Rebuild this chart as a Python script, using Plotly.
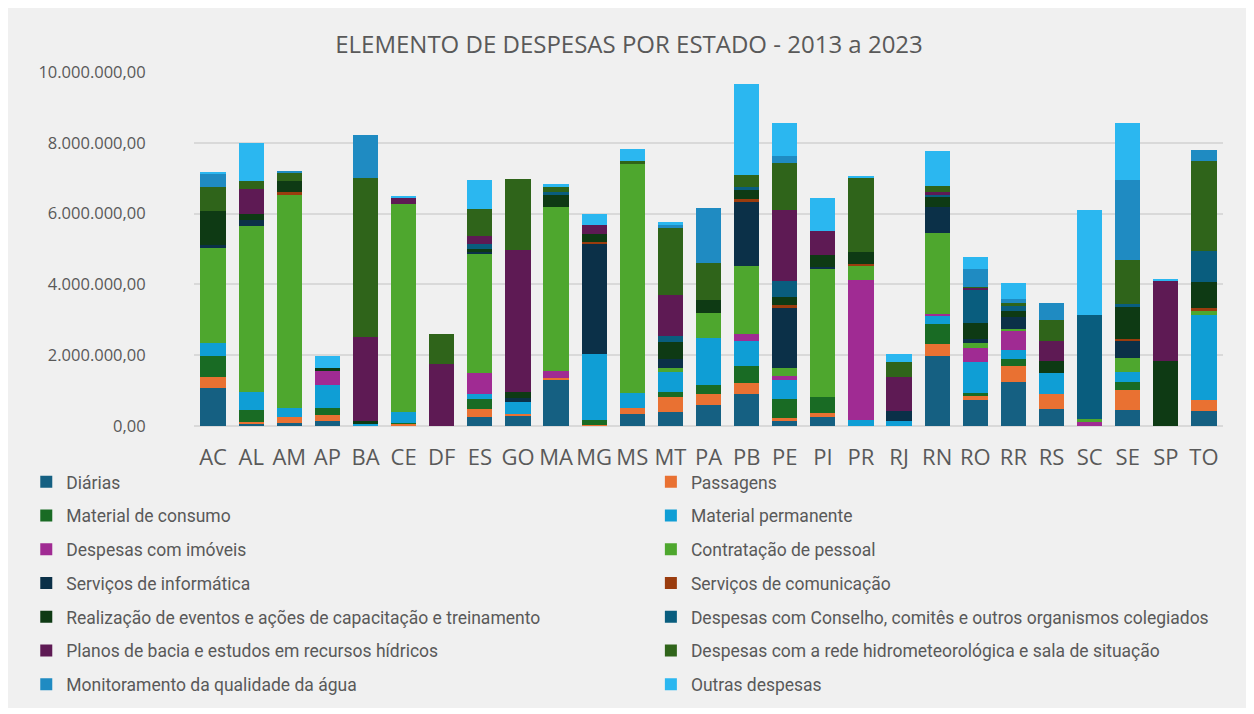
import plotly.graph_objects as go

# Estados (eixo x)
estados = ["AC", "AL", "AM", "AP", "BA", "CE", "DF", "ES", "GO", "MA", "MG", "MS", "MT", "PA",
           "PB", "PE", "PI", "PR", "RJ", "RN", "RO", "RR", "RS", "SC", "SE", "SP", "TO"]

# Valores em milhões de R$ (ordem dos estados acima)
diarias =        [1.06, 0.06, 0.08, 0.15, 0.00, 0.00, 0.00, 0.25, 0.27, 1.30, 0.00, 0.34, 0.39, 0.58,
                  0.91, 0.13, 0.26, 0.00, 0.00, 1.98, 0.74, 1.23, 0.47, 0.00, 0.44, 0.00, 0.42]
passagens =      [0.32, 0.06, 0.18, 0.17, 0.00, 0.06, 0.00, 0.23, 0.08, 0.06, 0.04, 0.16, 0.42, 0.32,
                  0.30, 0.10, 0.12, 0.00, 0.00, 0.34, 0.12, 0.46, 0.42, 0.00, 0.58, 0.00, 0.32]
mat_consumo =    [0.60, 0.33, 0.00, 0.18, 0.00, 0.02, 0.00, 0.28, 0.00, 0.00, 0.13, 0.00, 0.14, 0.26,
                  0.49, 0.53, 0.44, 0.00, 0.00, 0.57, 0.08, 0.21, 0.00, 0.00, 0.21, 0.00, 0.00]
mat_permanente = [0.36, 0.52, 0.24, 0.67, 0.08, 0.31, 0.00, 0.15, 0.33, 0.00, 1.87, 0.43, 0.57, 1.34,
                  0.70, 0.54, 0.00, 0.18, 0.13, 0.21, 0.86, 0.24, 0.60, 0.00, 0.29, 0.00, 2.39]
imoveis =        [0.00, 0.00, 0.00, 0.38, 0.00, 0.00, 0.00, 0.59, 0.00, 0.19, 0.00, 0.00, 0.00, 0.00,
                  0.21, 0.12, 0.00, 3.95, 0.00, 0.06, 0.41, 0.54, 0.00, 0.10, 0.00, 0.00, 0.00]
contratacao =    [2.70, 4.68, 6.02, 0.00, 0.00, 5.88, 0.00, 3.37, 0.00, 4.63, 0.00, 6.48, 0.12, 0.68,
                  1.92, 0.22, 3.61, 0.40, 0.00, 2.30, 0.14, 0.06, 0.00, 0.11, 0.41, 0.00, 0.14]
informatica =    [0.07, 0.18, 0.00, 0.00, 0.00, 0.00, 0.00, 0.05, 0.10, 0.00, 3.10, 0.00, 0.25, 0.00,
                  1.79, 1.72, 0.07, 0.00, 0.30, 0.72, 0.11, 0.34, 0.00, 0.00, 0.46, 0.00, 0.00]
comunicacao =    [0.00, 0.00, 0.09, 0.00, 0.00, 0.00, 0.00, 0.00, 0.00, 0.00, 0.06, 0.00, 0.00, 0.00,
                  0.09, 0.05, 0.00, 0.04, 0.00, 0.00, 0.00, 0.00, 0.00, 0.00, 0.07, 0.00, 0.05]
eventos =        [0.95, 0.17, 0.31, 0.09, 0.05, 0.00, 0.00, 0.08, 0.18, 0.34, 0.22, 0.00, 0.47, 0.38,
                  0.25, 0.24, 0.33, 0.35, 0.00, 0.30, 0.45, 0.18, 0.34, 0.00, 0.90, 1.83, 0.74]
conselho =       [0.00, 0.00, 0.00, 0.00, 0.00, 0.00, 0.00, 0.15, 0.00, 0.09, 0.00, 0.00, 0.17, 0.00,
                  0.09, 0.44, 0.00, 0.00, 0.00, 0.07, 0.93, 0.13, 0.00, 2.93, 0.09, 0.00, 0.89]
planos =         [0.00, 0.70, 0.00, 0.00, 2.39, 0.19, 1.75, 0.23, 4.01, 0.00, 0.26, 0.00, 1.17, 0.00,
                  0.00, 2.00, 0.69, 0.00, 0.96, 0.05, 0.06, 0.00, 0.58, 0.00, 0.00, 2.28, 0.00]
rede_hidro =     [0.69, 0.22, 0.24, 0.00, 4.48, 0.00, 0.85, 0.76, 2.00, 0.14, 0.00, 0.09, 1.90, 1.05,
                  0.33, 1.35, 0.00, 2.10, 0.41, 0.19, 0.04, 0.08, 0.58, 0.00, 1.25, 0.00, 2.53]
monitoramento =  [0.36, 0.00, 0.04, 0.00, 1.23, 0.00, 0.00, 0.00, 0.00, 0.00, 0.00, 0.00, 0.07, 1.54,
                  0.00, 0.20, 0.00, 0.00, 0.00, 0.00, 0.49, 0.11, 0.49, 0.00, 2.25, 0.00, 0.31]
outras =         [0.06, 1.07, 0.00, 0.34, 0.00, 0.04, 0.00, 0.80, 0.00, 0.08, 0.32, 0.32, 0.09, 0.00,
                  2.58, 0.92, 0.92, 0.04, 0.22, 0.97, 0.34, 0.45, 0.00, 2.96, 1.62, 0.02, 0.00]

series = [
    ("Diárias", diarias, "#156082"),
    ("Passagens", passagens, "#E97132"),
    ("Material de consumo", mat_consumo, "#196B24"),
    ("Material permanente", mat_permanente, "#0F9ED5"),
    ("Despesas com imóveis", imoveis, "#A02B93"),
    ("Contratação de pessoal", contratacao, "#4EA72E"),
    ("Serviços de informática", informatica, "#0B3048"),
    ("Serviços de comunicação", comunicacao, "#9A3C0E"),
    ("Realização de eventos e ações de capacitação e treinamento", eventos, "#0E3A14"),
    ("Despesas com Conselho, comitês e outros organismos colegiados", conselho, "#095D7E"),
    ("Planos de bacia e estudos em recursos hídricos", planos, "#5E1A54"),
    ("Despesas com a rede hidrometeorológica e sala de situação", rede_hidro, "#2F641A"),
    ("Monitoramento da qualidade da água", monitoramento, "#1F8BC2"),
    ("Outras despesas", outras, "#2BB7F0"),
]

TEXT = "#595959"
GRID = "#D9D9D9"
FONT = "Roboto, Arial"

fig = go.Figure()
for i, (nome, vals, cor) in enumerate(series):
    fig.add_trace(go.Bar(
        x=estados, y=[v * 1_000_000 for v in vals], name=nome,
        marker=dict(color=cor, line=dict(width=0)),
        legend="legend" if i % 2 == 0 else "legend2",
        legendgroup=f"g{i}",
        hovertemplate=f"{nome}<br>%{{x}}: %{{y:,.2f}}<extra></extra>",
    ))

# duas colunas de legenda, como no original
legend_common = dict(
    orientation="v", yanchor="top", y=-0.107, traceorder="grouped", tracegroupgap=8,
    font=dict(size=17.5, color=TEXT, family=FONT), bgcolor="rgba(0,0,0,0)",
)

# a página tem 8 px de margem branca em volta da figura
fig.update_layout(
    width=1242, height=700,
    barmode="stack", bargap=0.34,
    separators=",.",
    paper_bgcolor="#F0F0F0", plot_bgcolor="#F0F0F0",
    margin=dict(l=186, r=27, t=64, b=282, autoexpand=False),
    title=dict(
        text="ELEMENTO DE DESPESAS POR ESTADO - 2013 a 2023",
        x=0.5, xanchor="center", y=1 - 37 / 700, yanchor="middle",
        font=dict(size=24, color=TEXT, family="Open Sans, Arial"),
    ),
    xaxis=dict(
        tickfont=dict(size=22, color=TEXT, family="Open Sans, Arial"), tickangle=0,
        showgrid=False, showline=False, ticks="outside", ticklen=12, tickcolor="rgba(0,0,0,0)",
    ),
    yaxis=dict(
        range=[0, 10_000_000], tickvals=[0, 2e6, 4e6, 6e6, 8e6, 10e6], tickformat=",.2f",
        tickfont=dict(size=16.5, color=TEXT, family="Open Sans, Arial"),
        gridcolor=GRID, gridwidth=1.5, zeroline=True, zerolinecolor=GRID, zerolinewidth=1.5,
        ticks="outside", ticklen=44, tickcolor="rgba(0,0,0,0)", showline=False,
    ),
    legend=dict(x=-0.163, xanchor="left", **legend_common),
    legend2=dict(x=0.444, xanchor="left", **legend_common),
    showlegend=True,
)

fig.write_html("out.html")
